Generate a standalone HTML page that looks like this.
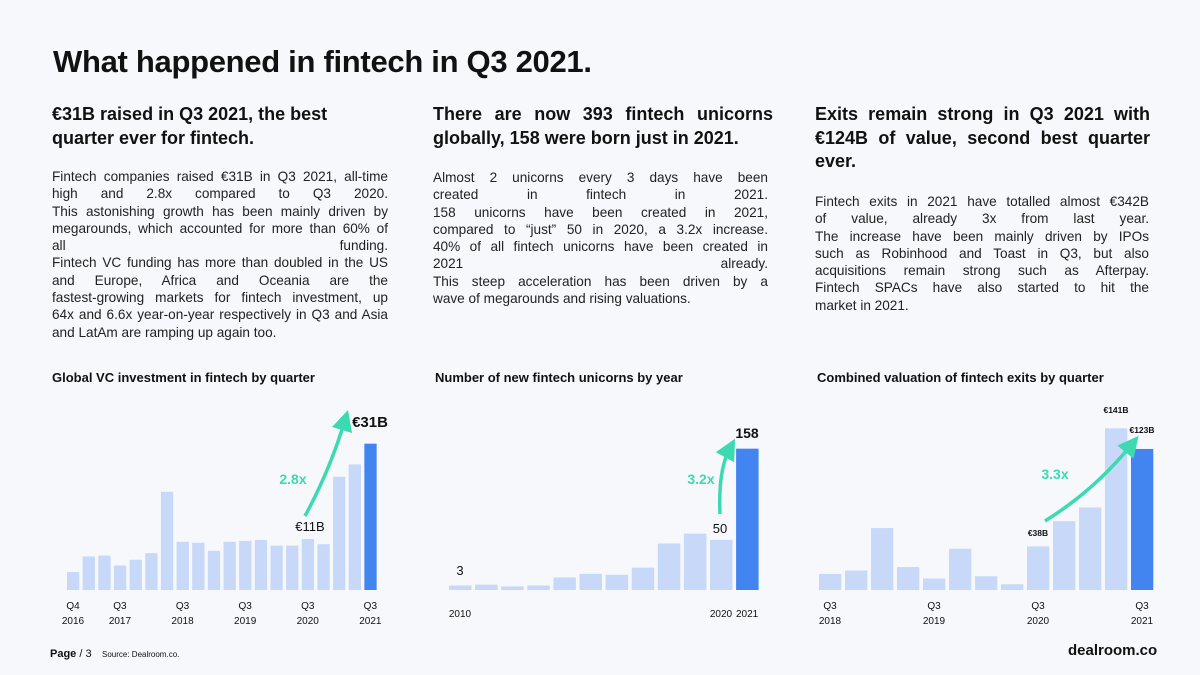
<!DOCTYPE html>
<html><head><meta charset="utf-8">
<style>
body{margin:0;width:1200px;height:675px;background:#f6f8fc;font-family:"Liberation Sans",sans-serif;color:#111;position:relative;overflow:hidden}
.abs{position:absolute}
h1{position:absolute;left:53px;top:44px;margin:0;font-size:31px;font-weight:bold;letter-spacing:-0.3px}
.hd{position:absolute;font-size:18px;font-weight:bold;line-height:23.5px}
.hd div,.bd div{white-space:nowrap}
.bd{position:absolute;font-size:13.6px;line-height:17.3px;color:#222}
.j{text-align:justify;text-align-last:justify;white-space:normal!important}
.ct{position:absolute;font-size:13px;font-weight:bold;top:370px}
svg{position:absolute;left:0;top:0}
</style></head><body>
<h1>What happened in fintech in Q3 2021.</h1>

<div class="hd" style="left:52px;top:103px;width:340px"><div>€31B raised in Q3 2021, the best</div><div>quarter ever for fintech.</div></div>
<div class="bd" style="left:52px;top:168px;width:336px">
<div class="j">Fintech companies raised €31B in Q3 2021, all-time</div>
<div class="j">high and 2.8x compared to Q3 2020.</div>
<div class="j">This astonishing growth has been mainly driven by</div>
<div class="j">megarounds, which accounted for more than 60% of</div>
<div class="j">all funding.</div>
<div class="j">Fintech VC funding has more than doubled in the US</div>
<div class="j">and Europe, Africa and Oceania are the</div>
<div class="j">fastest-growing markets for fintech investment, up</div>
<div class="j">64x and 6.6x year-on-year respectively in Q3 and Asia</div>
<div>and LatAm are ramping up again too.</div></div>

<div class="hd" style="left:433px;top:103px;width:340px"><div class="j">There are now 393 fintech unicorns</div><div>globally, 158 were born just in 2021.</div></div>
<div class="bd" style="left:433px;top:169px;width:335px">
<div class="j">Almost 2 unicorns every 3 days have been</div>
<div class="j">created in fintech in 2021.</div>
<div class="j">158 unicorns have been created in 2021,</div>
<div class="j">compared to “just” 50 in 2020, a 3.2x increase.</div>
<div class="j">40% of all fintech unicorns have been created in</div>
<div class="j">2021 already.</div>
<div class="j">This steep acceleration has been driven by a</div>
<div>wave of megarounds and rising valuations.</div></div>

<div class="hd" style="left:815px;top:103px;width:335px"><div class="j">Exits remain strong in Q3 2021 with</div><div class="j">€124B of value, second best quarter</div><div>ever.</div></div>
<div class="bd" style="left:815px;top:193px;width:334px">
<div class="j">Fintech exits in 2021 have totalled almost €342B</div>
<div class="j">of value, already 3x from last year.</div>
<div class="j">The increase have been mainly driven by IPOs</div>
<div class="j">such as Robinhood and Toast in Q3, but also</div>
<div class="j">acquisitions remain strong such as Afterpay.</div>
<div class="j">Fintech SPACs have also started to hit the</div>
<div>market in 2021.</div></div>

<div class="ct" style="left:52px">Global VC investment in fintech by quarter</div>
<div class="ct" style="left:435px">Number of new fintech unicorns by year</div>
<div class="ct" style="left:817px">Combined valuation of fintech exits by quarter</div>

<svg id="s" width="1200" height="675">
<defs><marker id="ah" markerWidth="6" markerHeight="6" refX="3" refY="3" orient="auto"><path d="M0,0 L6,3 L0,6 z" fill="#3dd9b0"/></marker></defs>
</svg>

<div class="abs" style="left:50px;top:648px;font-size:11px;font-weight:bold">Page <span style="font-weight:normal">/ 3</span></div>
<div class="abs" style="left:102px;top:650px;font-size:8px">Source: Dealroom.co.</div>
<div class="abs" style="left:1068px;top:642px;font-size:15px;font-weight:bold">dealroom.co</div>

<script>
const vcValues=[3.8,7.1,7.3,5.2,6.4,7.8,20.8,10.2,10.0,8.3,10.2,10.4,10.6,9.4,9.4,10.8,9.7,24.0,26.6,31.0];
const vcTicks=[[0,"Q4","2016"],[3,"Q3","2017"],[7,"Q3","2018"],[11,"Q3","2019"],[15,"Q3","2020"],[19,"Q3","2021"]];
const uniYears=[2010,2011,2012,2013,2014,2015,2016,2017,2018,2019,2020,2021];
const uniValues=[5,6,4,5,14,18,17,25,52,63,56,158];
const uniTicks=[[0,"2010"],[10,"2020"],[11,"2021"]];
const exitValues=[14,17,54,20,10,36,12,5,38,60,72,141,123];
const exitTicks=[[0,"Q3","2018"],[4,"Q3","2019"],[8,"Q3","2020"],[12,"Q3","2021"]];

const svg=document.getElementById('s');const NS="http://www.w3.org/2000/svg";
function el(t,a,txt){const e=document.createElementNS(NS,t);for(const k in a)e.setAttribute(k,a[k]);if(txt!==undefined)e.textContent=txt;svg.appendChild(e);return e;}
function chart(name,vals,x0,step,bw,base,scale){
  const xs=i=>x0+i*step, ys=v=>base-v*scale;
  vals.forEach((v,i)=>{
    const r=el('rect',{x:xs(i),y:ys(v),width:bw,height:base-ys(v),fill:i==vals.length-1?'#4285f0':'#c8d8f8'});
    
    
  });
  return {xs,ys};
}
function lbl(x,y,t,o){const e=el('text',Object.assign({x:x,y:y,'font-size':12,'text-anchor':'middle','font-family':'Liberation Sans, sans-serif',fill:'#111'},o||{}),t);return e;}

// chart 1
const c1=chart('vc',vcValues,67,15.65,12.3,590,439/3/31);
vcTicks.forEach(t=>{const x=c1.xs(t[0])+6;lbl(x,609,t[1],{'font-size':10});lbl(x,624,t[2],{'font-size':10});});
lbl(310,531,"€11B",{'font-size':13});
lbl(370,427,"€31B",{'font-size':15,'font-weight':'bold'});
el('path',{d:`M305,516 Q330,470 345,420`,stroke:'#3dd9b0','stroke-width':3.5,fill:'none','marker-end':'url(#ah)'});
lbl(293,484,"2.8x",{'font-size':14,'font-weight':'bold',fill:'#3dd9b0'});

// chart 2
const c2=chart('unicorn',uniValues,449,26.1,22.5,590,424/3/158);
uniTicks.forEach(t=>lbl(c2.xs(t[0])+11,617,t[1],{'font-size':10}));
lbl(460,575,"3",{'font-size':13});
lbl(720,533,"50",{'font-size':13});
lbl(747,438,"158",{'font-size':14,'font-weight':'bold'});
el('path',{d:`M720,514 Q718,470 730,448`,stroke:'#3dd9b0','stroke-width':3.5,fill:'none','marker-end':'url(#ah)'});
lbl(701,484,"3.2x",{'font-size':14,'font-weight':'bold',fill:'#3dd9b0'});

// chart 3
const c3=chart('exit',exitValues,819,26,22.3,590,485/3/141);
exitTicks.forEach(t=>{const x=c3.xs(t[0])+11;lbl(x,609,t[1],{'font-size':10});lbl(x,624,t[2],{'font-size':10});});
lbl(1038,536,"€38B",{'font-size':8.5,'font-weight':'bold'});
lbl(1116,413,"€141B",{'font-size':8.5,'font-weight':'bold'});
lbl(1142,433,"€123B",{'font-size':8.5,'font-weight':'bold'});
el('path',{d:`M1045,521 Q1095,490 1132,444`,stroke:'#3dd9b0','stroke-width':3.5,fill:'none','marker-end':'url(#ah)'});
lbl(1055,479,"3.3x",{'font-size':14,'font-weight':'bold',fill:'#3dd9b0'});
</script>
</body></html>
